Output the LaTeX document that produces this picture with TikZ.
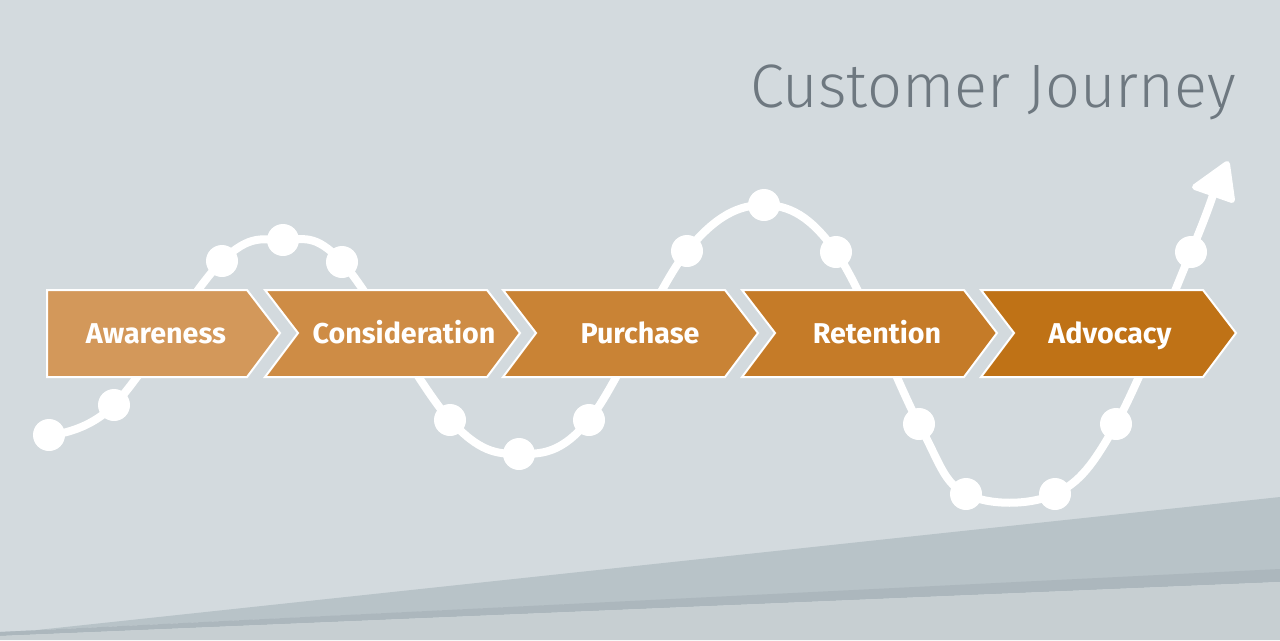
\documentclass[tikz,border=0pt]{standalone}
\usetikzlibrary{arrows.meta}
\usepackage{fontspec}
\setmainfont{Fira Sans}
\newfontfamily\titlefont{Fira Sans Light}
\definecolor{bg}{HTML}{D3DADE}
\definecolor{bandA}{HTML}{B8C3C8}
\definecolor{bandB}{HTML}{ACB7BD}
\definecolor{bandC}{HTML}{C7CFD2}
\definecolor{titlec}{HTML}{6E7880}
\definecolor{c1}{HTML}{D3985A}
\definecolor{c2}{HTML}{CE8C45}
\definecolor{c3}{HTML}{C98335}
\definecolor{c4}{HTML}{C57B28}
\definecolor{c5}{HTML}{BF7216}
\begin{document}
\begin{tikzpicture}[x=0.75pt,y=-0.75pt,
  dot/.style={circle,fill=white,minimum size=32*0.75pt,inner sep=0pt},
  wave/.style={white,line width=8*0.75pt},
  chev/.style={draw=white,line width=2*0.75pt},
  lab/.style={text=white,anchor=base,inner sep=0pt,font=\fontsize{21.5}{24}\selectfont\bfseries}]
\useasboundingbox (0,0) rectangle (1280,640);
\fill[bg] (0,0) rectangle (1280,640);
\fill[bandA] (0,634) -- (1280,497) -- (1280,570) -- (0,632) -- cycle;
\fill[bandB] (0,632) -- (1280,569) -- (1280,582) -- (0,636) -- cycle;
\fill[bandC] (0,636) -- (1280,582) -- (1280,640) -- (0,640) -- cycle;
\node[anchor=base east,text=titlec,font=\titlefont\fontsize{46}{46}\selectfont,inner sep=0pt] (title) at (1236,107) {Customer Journey};
% wave
\foreach \n/\x/\y in {p1/49/435,p2/114/405,p3/222/261,p4/283/240,p5/342/262,p6/450/420,p7/519/454,p8/589/420,p9/687/251,p10/764/205,p11/836/252,p12/919/424,p13/966/494,p14/1055/494,p15/1116/424,p16/1191/252}
  \coordinate (\n) at (\x,\y);
\coordinate (tip) at (1214,192);
\coordinate (h1) at (1227,164);
\coordinate (h2) at (1195,187);
\coordinate (h3) at (1232,200);
\draw[wave,line cap=round] plot[smooth,tension=0.6] coordinates {(p1) (p2) (p3) (p4) (p5) (p6) (p7) (p8) (p9) (p10) (p11) (p12) (p13) (p14) (p15) (p16) (tip)};
\filldraw[white,line width=6*0.75pt,line join=round] (h1) -- (h2) -- (h3) -- cycle;
\foreach \n in {p1,p2,p3,p4,p5,p6,p7,p8,p9,p10,p11,p12,p13,p14,p15,p16}
  \node[dot] (d\n) at (\n) {};
% chevrons
\filldraw[chev,fill=c1] (47,290) -- (247,290) -- (280,333) -- (247,377) -- (47,377) -- cycle;
\node[lab] (a1) at (156,343) {Awareness};
\foreach \i/\s/\c/\t/\cx in {2/265/c2/Consideration/404,3/503/c3/Purchase/640,4/742/c4/Retention/877,5/981/c5/Advocacy/1110}{
  \filldraw[chev,fill=\c] (\s,290) -- (\s+222,290) -- (\s+255,333) -- (\s+222,377) -- (\s,377) -- (\s+33,333) -- cycle;
  \node[lab] (a\i) at (\cx,343) {\t};
}
\end{tikzpicture}
\end{document}
